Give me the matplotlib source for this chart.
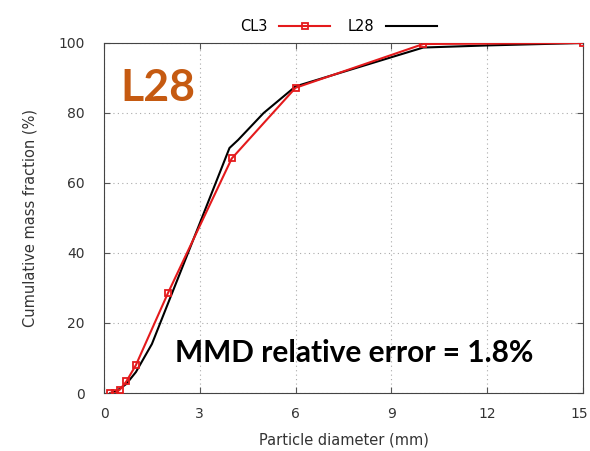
import matplotlib.pyplot as plt
import matplotlib.transforms as mtransforms

plt.rcParams['font.family'] = ['DejaVu Sans']

# particle size distributions: CL3 measured, L28 simulated
cl3_d = [0.2, 0.35, 0.5, 0.7, 1.0, 2.0, 4.0, 6.0, 10.0, 15.0]
cl3_frac = [0.0, 0.0, 1.0, 3.3, 8.0, 28.5, 67.0, 87.2, 99.7, 100.0]

l28_d = [0.2, 0.4, 0.7, 1.0, 1.5, 2.0, 3.0, 3.93, 4.2, 5.0, 6.0, 10.0, 12.0, 15.0]
l28_frac = [0.0, 0.6, 2.6, 6.0, 14.0, 25.5, 48.5, 70.0, 72.3, 80.0, 87.6, 98.7, 99.3, 100.0]

xticks = [0, 3, 6, 9, 12, 15]
yticks = [0, 20, 40, 60, 80, 100]

fig = plt.figure(figsize=(5.9, 4.51), dpi=100)
ax = fig.add_axes([0.1763, 0.1286, 0.8117, 0.7761])

ax.plot(cl3_d, cl3_frac, color='#e41a1c', lw=1.5, marker='s', ms=5,
        mfc='none', mec='#e41a1c', mew=1.3, label='CL3', zorder=3)
ax.plot(l28_d, l28_frac, color='black', lw=1.5, label='L28', zorder=2)

ax.set_xlim(0, 15)
ax.set_ylim(0, 100)
ax.set_xticks(xticks)
ax.set_yticks(yticks)
ax.tick_params(direction='in', top=True, right=True, length=4,
               labelsize=10, labelcolor='#333333', color='#555555')
ax.tick_params(axis='x', pad=10)
ax.tick_params(axis='y', pad=14)
ax.grid(True, ls=(0, (1, 3)), color='#aaaaaa', lw=0.8)
for sp in ax.spines.values():
    sp.set_color('#444444')

# nudge the last x label inward so it stays on the canvas
last = ax.get_xticklabels()[-1]
last.set_transform(last.get_transform() +
                   mtransforms.ScaledTranslation(-3 / 72, 0, fig.dpi_scale_trans))

ax.set_xlabel('Particle diameter (mm)', fontsize=10.5, color='#333333', labelpad=8)
ax.set_ylabel('Cumulative mass fraction (%)', fontsize=10.5, color='#333333', labelpad=15)

ax.legend(loc='lower center', bbox_to_anchor=(0.49, 1.0), ncol=2, frameon=False,
          markerfirst=False, fontsize=10.5, handlelength=3.5, columnspacing=1.2,
          borderaxespad=0.2)

ax.text(0.035, 0.87, 'L28', transform=ax.transAxes, family='Lato',
        fontweight='bold', fontsize=32, color='#c55a11', va='center')
ax.text(0.148, 0.115, 'MMD relative error = 1.8%', transform=ax.transAxes,
        family='Lato', fontweight='bold', fontsize=21.5, color='black', va='center')

plt.savefig('out.png', dpi=100)
